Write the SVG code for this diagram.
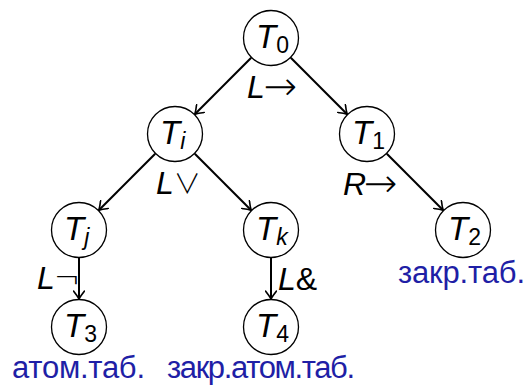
<svg xmlns="http://www.w3.org/2000/svg" width="529" height="385" viewBox="0 0 529 385">
<style>
.node circle{fill:#fff;stroke:#000;stroke-width:1.3}
.t{font-family:"Liberation Sans",Arial,sans-serif;font-size:33px;font-style:italic;fill:#000}
.sub{font-size:23px;font-style:normal}
.subi{font-size:23px;font-style:italic}
.lbl{font-family:"Liberation Sans",Arial,sans-serif;font-size:32px;fill:#000}
.lbl .it{font-style:italic}
.lbl .sym{font-family:"DejaVu Sans",sans-serif;font-size:32px;font-weight:200}
.lbl .arw{font-family:"DejaVu Sans",sans-serif;font-size:40px;font-weight:200}
.lbl .or{font-family:"Noto Sans CJK JP",sans-serif;font-size:27px;font-weight:300}
.blue{font-family:"Liberation Sans",Arial,sans-serif;font-size:31px;fill:#1f1fa6}
.edge{stroke:#000;stroke-width:2;fill:none;marker-end:url(#arr)}
</style>
<defs>
<marker id="arr" viewBox="-10 -6 12 12" markerWidth="12" markerHeight="12" refX="0" refY="0" orient="auto" markerUnits="userSpaceOnUse">
<path d="M-8,-5.5 Q-3,-1.5 0,0 Q-3,1.5 -8,5.5" fill="none" stroke="#000" stroke-width="1.6" stroke-linecap="round"/>
</marker>
</defs>
<g id="connectors">
<line class="edge" x1="251.2" y1="57.8" x2="194.8" y2="114.2"/>
<line class="edge" x1="290.8" y1="57.8" x2="347.2" y2="114.2"/>
<line class="edge" x1="155.2" y1="153.8" x2="98.8" y2="210.2"/>
<line class="edge" x1="194.8" y1="153.8" x2="251.2" y2="210.2"/>
<line class="edge" x1="386.8" y1="153.8" x2="443.2" y2="210.2"/>
<line class="edge" x1="79" y1="258" x2="79" y2="299"/>
<line class="edge" x1="271" y1="258" x2="271" y2="299"/>
</g>
<g id="labels">
<text class="lbl" x="247" y="98"><tspan class="it">L</tspan><tspan class="arw" dx="-1" dy="2">→</tspan></text>
<text class="lbl" x="156" y="194"><tspan class="it">L</tspan><tspan class="or">∨</tspan></text>
<text class="lbl" x="343" y="195"><tspan class="it">R</tspan><tspan class="arw" dx="-2" dy="2">→</tspan></text>
<text class="lbl" x="37" y="289"><tspan class="it">L</tspan><tspan class="sym" dx="-1">¬</tspan></text>
<text class="lbl" x="278" y="290"><tspan class="it">L</tspan>&amp;</text>
</g>
<g id="T0" class="node"><circle cx="271" cy="38" r="27.5"/><text class="t" x="256" y="48">T<tspan class="sub" dy="5">0</tspan></text></g>
<g id="Ti" class="node"><circle cx="175" cy="134" r="27.5"/><text class="t" x="160" y="144">T<tspan class="subi" dy="5">i</tspan></text></g>
<g id="T1" class="node"><circle cx="367" cy="134" r="27.5"/><text class="t" x="352" y="144">T<tspan class="sub" dy="5">1</tspan></text></g>
<g id="Tj" class="node"><circle cx="79" cy="230" r="27.5"/><text class="t" x="64" y="240">T<tspan class="subi" dy="5">j</tspan></text></g>
<g id="Tk" class="node"><circle cx="271" cy="230" r="27.5"/><text class="t" x="256" y="240">T<tspan class="subi" dy="5">k</tspan></text></g>
<g id="T2" class="node"><circle cx="463" cy="230" r="27.5"/><text class="t" x="448" y="240">T<tspan class="sub" dy="5">2</tspan></text><text class="blue" x="398" y="283" textLength="127">закр.таб.</text></g>
<g id="T3" class="node"><circle cx="79" cy="327" r="27.5"/><text class="t" x="64" y="337">T<tspan class="sub" dy="5">3</tspan></text><text class="blue" x="12" y="378" textLength="133">атом.таб.</text></g>
<g id="T4" class="node"><circle cx="271" cy="327" r="27.5"/><text class="t" x="256" y="337">T<tspan class="sub" dy="5">4</tspan></text><text class="blue" x="167" y="378" textLength="188">закр.атом.таб.</text></g>
</svg>
